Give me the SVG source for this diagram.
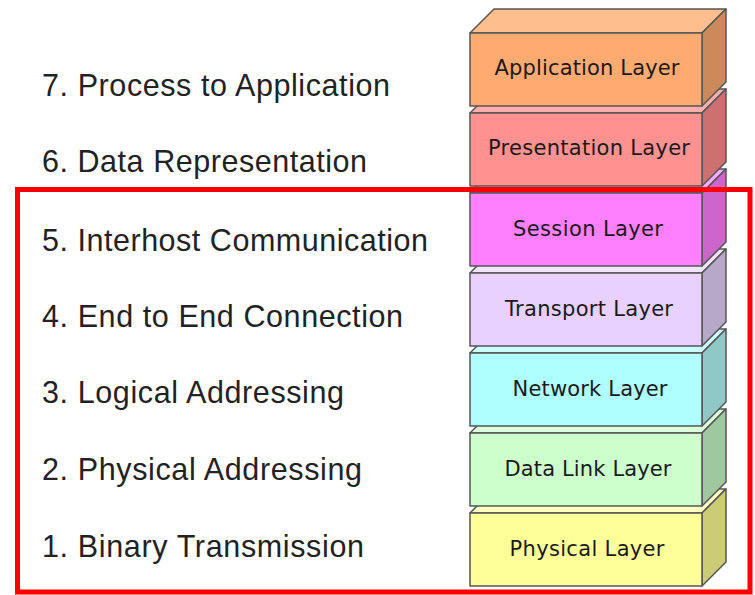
<svg xmlns="http://www.w3.org/2000/svg" width="755" height="595" viewBox="0 0 755 595">
<style>
.edge{stroke:#555555;stroke-width:1.5;stroke-linejoin:round}
.lbl{font-family:"DejaVu Sans","Liberation Sans",sans-serif;font-size:21px;fill:#1a1a1a;text-anchor:middle}
.desc{font-family:"Liberation Sans",Arial,sans-serif;font-size:30.5px;fill:#222222}
</style>
<rect width="755" height="595" fill="#ffffff"/>
<g id="physical">
<polygon class="edge" points="470,513 494,489 726,489 702,513" fill="#FFFFC0"/>
<polygon class="edge" points="702,513 726,489 726,562 702,586" fill="#CCCC77"/>
<rect class="edge" x="470" y="513" width="232" height="73" fill="#FFFF99"/>
<text class="lbl" x="587" y="556" textLength="155">Physical Layer</text>
</g>
<g id="datalink">
<polygon class="edge" points="470,433 494,409 726,409 702,433" fill="#DDFFDD"/>
<polygon class="edge" points="702,433 726,409 726,482 702,506" fill="#A0C8A0"/>
<rect class="edge" x="470" y="433" width="232" height="73" fill="#CCFFCC"/>
<text class="lbl" x="588" y="476" textLength="167">Data Link Layer</text>
</g>
<g id="network">
<polygon class="edge" points="470,353 494,329 726,329 702,353" fill="#CCFFFF"/>
<polygon class="edge" points="702,353 726,329 726,402 702,426" fill="#90C8C8"/>
<rect class="edge" x="470" y="353" width="232" height="73" fill="#B0FFFF"/>
<text class="lbl" x="590" y="396" textLength="155">Network Layer</text>
</g>
<g id="transport">
<polygon class="edge" points="470,273 494,249 726,249 702,273" fill="#F0E4FF"/>
<polygon class="edge" points="702,273 726,249 726,322 702,346" fill="#B8A8C8"/>
<rect class="edge" x="470" y="273" width="232" height="73" fill="#E8D0FF"/>
<text class="lbl" x="589" y="316" textLength="168">Transport Layer</text>
</g>
<g id="session">
<polygon class="edge" points="470,193 494,169 726,169 702,193" fill="#FFA8FF"/>
<polygon class="edge" points="702,193 726,169 726,242 702,266" fill="#CC66CC"/>
<rect class="edge" x="470" y="193" width="232" height="73" fill="#FF80FF"/>
<text class="lbl" x="588" y="236" textLength="150">Session Layer</text>
</g>
<g id="presentation">
<polygon class="edge" points="470,113 494,89 726,89 702,113" fill="#FFAEAE"/>
<polygon class="edge" points="702,113 726,89 726,162 702,186" fill="#CC7070"/>
<rect class="edge" x="470" y="113" width="232" height="73" fill="#FF9191"/>
<text class="lbl" x="589" y="155" textLength="202">Presentation Layer</text>
</g>
<g id="application">
<polygon class="edge" points="470,33 494,9 726,9 702,33" fill="#FFBE8E"/>
<polygon class="edge" points="702,33 726,9 726,82 702,106" fill="#CC8A5A"/>
<rect class="edge" x="470" y="33" width="232" height="73" fill="#FFAA70"/>
<text class="lbl" x="587" y="75" textLength="185">Application Layer</text>
</g>
<g id="descriptions">
<text class="desc" x="42" y="96" textLength="348">7. Process to Application</text>
<text class="desc" x="42" y="172" textLength="325">6. Data Representation</text>
<text class="desc" x="42" y="251" textLength="386">5. Interhost Communication</text>
<text class="desc" x="42" y="327" textLength="361">4. End to End Connection</text>
<text class="desc" x="42" y="403" textLength="302">3. Logical Addressing</text>
<text class="desc" x="42" y="480" textLength="320">2. Physical Addressing</text>
<text class="desc" x="42" y="557" textLength="322">1. Binary Transmission</text>
</g>
<g id="highlight">
<rect x="17.5" y="189.5" width="732.5" height="402.5" fill="none" stroke="#FF0000" stroke-width="5"/>
</g>
</svg>
